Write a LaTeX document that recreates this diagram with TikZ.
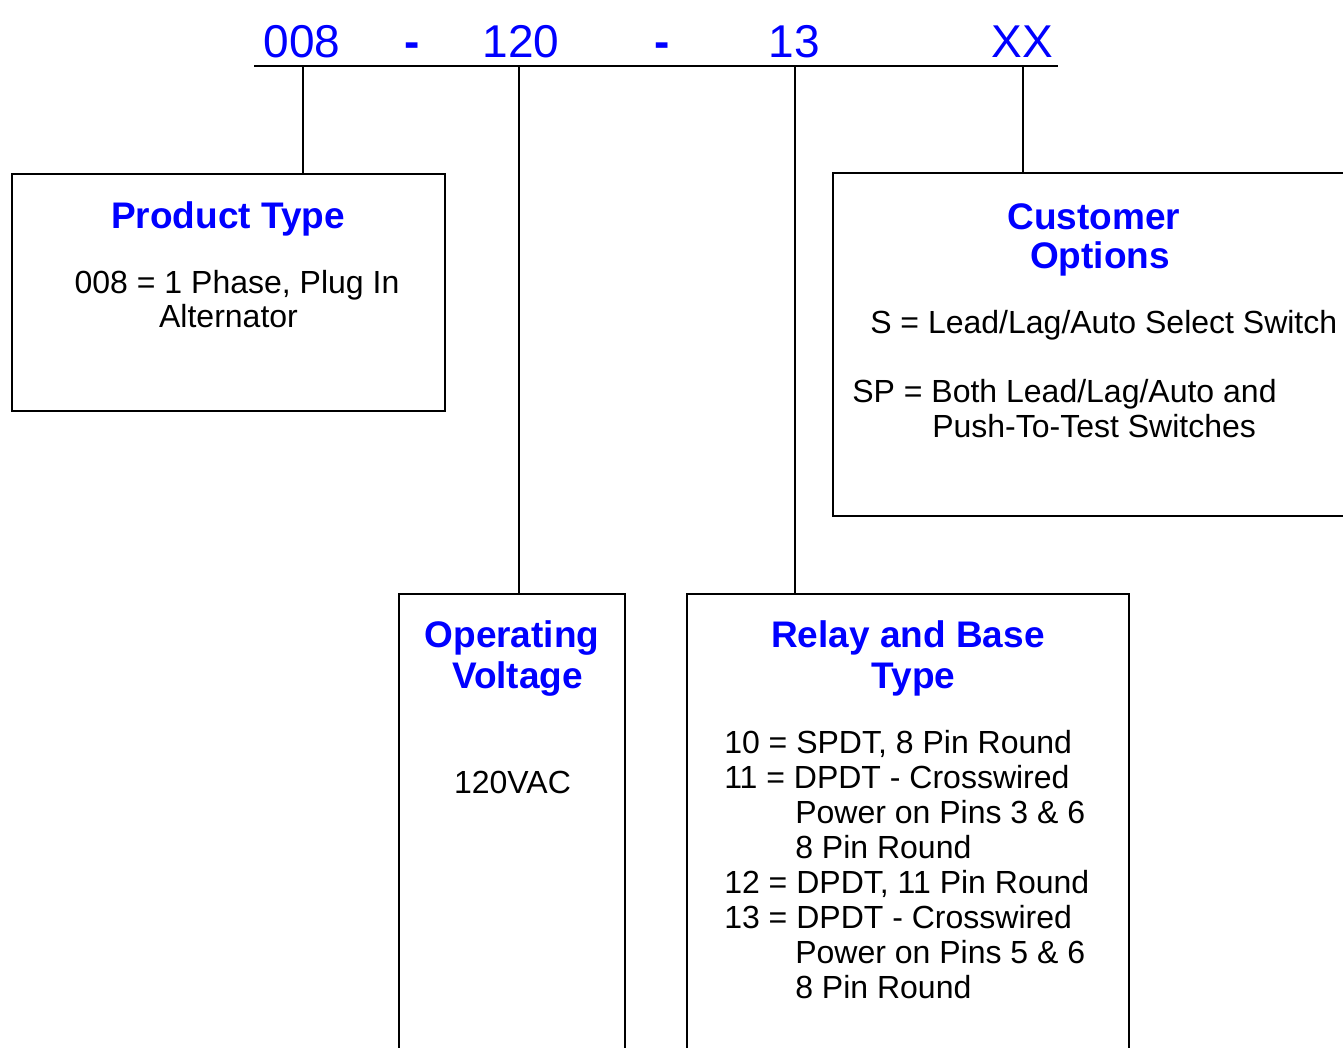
\documentclass[tikz,border=0pt]{standalone}
\usepackage{fontspec}
\setmainfont{Liberation Sans}
\usetikzlibrary{fit}
\definecolor{codeblue}{RGB}{0,0,255}
\tikzset{
  codetxt/.style={anchor=base, inner sep=0pt, text=codeblue, font=\fontsize{34.5pt}{40pt}\selectfont},
  dashtxt/.style={codetxt, font=\bfseries\fontsize{34.5pt}{40pt}\selectfont},
  titletxt/.style={anchor=base, inner sep=0pt, text=codeblue, font=\bfseries\fontsize{27.75pt}{32pt}\selectfont},
  bodytxt/.style={anchor=base, inner sep=0pt, text=black, font=\fontsize{24pt}{27pt}\selectfont},
  bodyleft/.style={bodytxt, anchor=base west},
  boxframe/.style={draw=black, line width=2pt, inner sep=0pt},
  conn/.style={draw=black, line width=1.6pt},
  codeline/.style={draw=black, line width=2.2pt}
}
\begin{document}
\begin{tikzpicture}[x=0.75pt,y=-0.75pt]
\clip (0,0) rectangle (1343,1047);
\fill[white] (0,0) rectangle (1343,1047);

% code line
\coordinate (lineL) at (254,66);
\coordinate (lineR) at (1058,66);
\draw[codeline] (lineL) -- (lineR);
\coordinate (t1) at (303,66);
\coordinate (t2) at (519,66);
\coordinate (t3) at (795,66);
\coordinate (t4) at (1023,66);

\node[codetxt] (c1) at (302,57) {008};
\node[dashtxt] (d1) at (412,57) {-};
\node[codetxt] (c2) at (521,57) {120};
\node[dashtxt] (d2) at (662,57) {-};
\node[codetxt] (c3) at (794,57) {13};
\node[codetxt] (c4) at (1022,57) {XX};

% boxes
\node[boxframe, fit={(12,174) (445,411)}] (pt) {};
\node[boxframe, fit={(833,173) (1365,516)}] (co) {};
\node[boxframe, fit={(399,594) (625,1070)}] (ov) {};
\node[boxframe, fit={(687,594) (1129,1070)}] (rb) {};

% connectors
\draw[conn] (t1) -- (t1 |- pt.north);
\draw[conn] (t2) -- (t2 |- ov.north);
\draw[conn] (t3) -- (t3 |- rb.north);
\draw[conn] (t4) -- (t4 |- co.north);

% product type
\node[titletxt] (ptT) at (228,228) {Product Type};
\node[bodytxt] (pt1) at (237,293) {008 = 1 Phase, Plug In};
\node[bodytxt] (pt2) at (228.5,327) {Alternator};

% customer options
\node[titletxt] (coT1) at (1094,229) {Customer};
\node[titletxt] (coT2) at (1100,268) {Options};
\node[bodyleft] (co1) at (870,333) {S = Lead/Lag/Auto Select Switch};
\node[bodyleft] (co2) at (852,402) {SP = Both Lead/Lag/Auto and};
\node[bodyleft] (co3) at (932,437) {Push-To-Test Switches};

% operating voltage
\node[titletxt] (ovT1) at (512,647) {Operating};
\node[titletxt] (ovT2) at (517.5,688) {Voltage};
\node[bodytxt] (ov1) at (512.5,793) {120VAC};

% relay and base type
\node[titletxt] (rbT1) at (908,647) {Relay and Base};
\node[titletxt] (rbT2) at (913.5,688) {Type};
\node[bodyleft] (rb1) at (724,753) {10 = SPDT, 8 Pin Round};
\node[bodyleft] (rb2) at (724,788) {11 = DPDT - Crosswired};
\node[bodyleft] (rb3) at (795,823) {Power on Pins 3 \& 6};
\node[bodyleft] (rb4) at (795,858) {8 Pin Round};
\node[bodyleft] (rb5) at (724,893) {12 = DPDT, 11 Pin Round};
\node[bodyleft] (rb6) at (724,928) {13 = DPDT - Crosswired};
\node[bodyleft] (rb7) at (795,963) {Power on Pins 5 \& 6};
\node[bodyleft] (rb8) at (795,998) {8 Pin Round};
\end{tikzpicture}
\end{document}
